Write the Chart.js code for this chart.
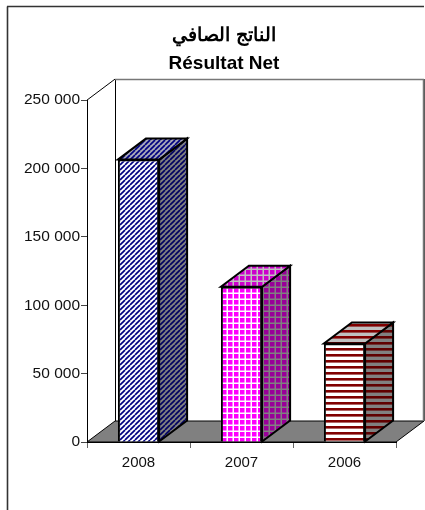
<!DOCTYPE html>
<html><head><meta charset="utf-8">
<style>html,body{margin:0;padding:0;background:#fff}canvas{display:block}</style>
<script src="https://cdn.jsdelivr.net/npm/chart.js@4"></script></head>
<body><div style="width:425px;height:510px"><canvas id="c" width="425" height="510"></canvas></div>
<script>
const categories = ['2008', '2007', '2006'];
const values = [206500, 113500, 72000];
const titleLines = ['الناتج الصافي', 'Résultat Net'];
const yMax = 250000;
const yStep = 50000;

function tile(w, h, draw) {
  const t = document.createElement('canvas'); t.width = w; t.height = h;
  draw(t.getContext('2d'));
  return document.createElement('canvas').getContext('2d').createPattern(t, 'repeat');
}
function diag(bg, fg) {
  return tile(5, 5, g => {
    g.fillStyle = bg; g.fillRect(0, 0, 5, 5);
    g.strokeStyle = fg; g.lineWidth = 1.7;
    for (let k = -5; k <= 10; k += 5) { g.beginPath(); g.moveTo(k, 5); g.lineTo(k + 5, 0); g.stroke(); }
  });
}
function grid(bg, fg) {
  return tile(6, 6, g => {
    g.fillStyle = bg; g.fillRect(0, 0, 6, 6);
    g.fillStyle = fg; g.fillRect(0, 4.5, 6, 1.5); g.fillRect(4.5, 0, 1.5, 6);
  });
}
function hstripe(bg, fg) {
  return tile(6, 6, g => {
    g.fillStyle = bg; g.fillRect(0, 0, 6, 6);
    g.fillStyle = fg; g.fillRect(0, 0, 6, 2.6);
  });
}
const faces = [
  { front: diag('#ffffff', '#000080'), side: diag('#808080', '#000060'), top: diag('#a8a8b8', '#000080') },
  { front: grid('#ff00ff', '#ffffff'), side: grid('#990099', '#808080'), top: grid('#cc00cc', '#c0c0c0') },
  { front: hstripe('#ffffff', '#800000'), side: hstripe('#808080', '#600000'), top: hstripe('#c0c0c0', '#800000') }
];

const DX = 28, DY = 21;
function poly(ctx, pts, fill, stroke, lw) {
  ctx.beginPath();
  pts.forEach((p, i) => i ? ctx.lineTo(p[0], p[1]) : ctx.moveTo(p[0], p[1]));
  ctx.closePath();
  if (fill) { ctx.fillStyle = fill; ctx.fill(); }
  if (stroke) { ctx.strokeStyle = stroke; ctx.lineWidth = lw; ctx.lineJoin = 'miter'; ctx.stroke(); }
}
function line(ctx, x1, y1, x2, y2, c, lw) {
  ctx.beginPath(); ctx.moveTo(x1, y1); ctx.lineTo(x2, y2);
  ctx.strokeStyle = c; ctx.lineWidth = lw; ctx.stroke();
}
const scene = {
  id: 'scene',
  afterLayout(chart) {
    chart.titleBlock.left += 52;
  },
  beforeDraw(chart) {
    const c = chart.ctx;
    c.save();
    line(c, 7.5, 510, 7.5, 6.5, '#333333', 1.6);
    line(c, 7, 6.5, 424, 6.5, '#333333', 1.6);
    line(c, 424.5, 79, 424.5, 421, '#555555', 1);
    c.restore();
  },
  beforeDatasetsDraw(chart) {
    const c = chart.ctx, a = chart.chartArea;
    const L = a.left, R = a.right, T = a.top, B = a.bottom;
    c.save();
    poly(c, [[L, B], [L + DX, B - DY], [R + DX, B - DY], [R, B]], '#808080', '#000000', 1);
    line(c, L, T, L + DX, T - DY, '#000000', 1);
    line(c, L + DX + 0.5, T - DY, L + DX + 0.5, B - DY, '#000000', 1);
    line(c, L + DX, T - DY + 0.5, R + DX, T - DY + 0.5, '#777777', 1.5);
    line(c, R + DX - 0.5, T - DY, R + DX - 0.5, B - DY, '#777777', 1.5);
    chart.getDatasetMeta(0).data.forEach((bar, i) => {
      const l = bar.x - bar.width / 2, r = bar.x + bar.width / 2, t = bar.y, b = bar.base;
      poly(c, [[r, b], [r + DX, b - DY], [r + DX, t - DY], [r, t]], faces[i].side, '#000000', 2);
      poly(c, [[l, t], [l + DX, t - DY], [r + DX, t - DY], [r, t]], faces[i].top, '#000000', 2);
    });
    c.restore();
  }
};

new Chart(document.getElementById('c'), {
  type: 'bar',
  data: {
    labels: categories,
    datasets: [{
      data: values,
      backgroundColor: faces.map(f => f.front),
      borderColor: '#000000',
      borderWidth: 2,
      barPercentage: 0.8,
      categoryPercentage: 0.5
    }]
  },
  plugins: [scene],
  options: {
    responsive: false,
    animation: false,
    layout: { padding: { left: 0, right: 29, top: 0, bottom: 0 } },
    plugins: {
      legend: { display: false },
      tooltip: { enabled: false },
      title: {
        display: true,
        text: titleLines,
        color: '#000000',
        font: { family: '"Liberation Sans", Arial, sans-serif', size: 19, weight: 'bold', lineHeight: 1.45 },
        padding: { top: 22, bottom: 23 }
      }
    },
    scales: {
      x: {
        offset: true,
        afterFit(s) { s.height = 68; },
        grid: { offset: true, drawOnChartArea: false, drawTicks: true, tickLength: 6, color: '#666666' },
        border: { display: true, color: '#000000', width: 1 },
        ticks: { color: '#111111', padding: 6, maxRotation: 0, font: { family: '"Liberation Sans", Arial, sans-serif', size: 15 } }
      },
      y: {
        min: 0, max: yMax,
        afterFit(s) { s.width = 87; },
        grid: { drawOnChartArea: false, tickLength: 6, color: '#444444' },
        border: { display: true, color: '#000000', width: 1 },
        ticks: {
          stepSize: yStep, color: '#111111', padding: 1,
          font: { family: '"Liberation Sans", Arial, sans-serif', size: 15.5 },
          callback: v => v === 0 ? '0' : String(v).replace(/(\d{3})$/, ' $1')
        }
      }
    }
  }
});
</script></body></html>
